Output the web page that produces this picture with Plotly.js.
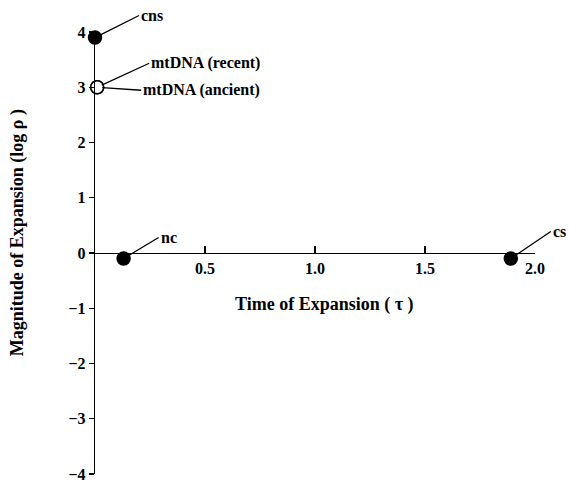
<!DOCTYPE html>
<html>
<head>
<meta charset="utf-8">
<script src="https://cdn.plot.ly/plotly-3.0.1.min.js"></script>
<style>html,body{margin:0;padding:0;background:#fff;}#chart{width:569px;height:485px;}</style>
</head>
<body>
<div id="chart"></div>
<script>
// Data
const labels = ["cns", "mtDNA (recent)", "mtDNA (ancient)", "nc", "cs"];
const tau = [0.0, 0.01, 0.01, 0.13, 1.89];
const logRho = [3.9, 3.0, 3.0, -0.1, -0.1];
const filled = [true, false, false, true, true];
const xTicks = [0.5, 1.0, 1.5, 2.0];
const xTickText = ["0.5", "1.0", "1.5", "2.0"];
const yTicks = [-4, -3, -2, -1, 0, 1, 2, 3, 4];
const xTitle = "Time of Expansion ( τ )";
const yTitle = "Magnitude of Expansion (log ρ )";
// label offsets (pixels) for callouts
const labelAx = [44, 52, 44, 35, 40];
const labelAy = [-22, -24, 3, -21, -27];

const FONT = "Liberation Serif, Times New Roman, serif";

const trace = {
  x: tau, y: logRho, mode: "markers", type: "scatter",
  marker: {
    size: 13,
    color: filled.map(f => f ? "#000" : "#fff"),
    line: {color: "#000", width: 1.5}
  },
  cliponaxis: false,
  hoverinfo: "text", text: labels, showlegend: false
};

const annotations = labels.map((t, i) => ({
  x: tau[i], y: logRho[i], xref: "x", yref: "y",
  text: t, showarrow: true, arrowhead: 0, arrowwidth: 1.3, arrowcolor: "#000",
  ax: labelAx[i], ay: labelAy[i], xanchor: "left", yanchor: "middle",
  standoff: 5,
  font: {family: FONT, size: 16, color: "#000", weight: "bold"}
}));

// axis titles placed as annotations to match the reference's offset positions
annotations.push({
  text: xTitle, xref: "x", yref: "y", x: 1.045, y: -0.93,
  showarrow: false, xanchor: "center", yanchor: "middle",
  font: {family: FONT, size: 18, color: "#000", weight: "bold"}
});
annotations.push({
  text: yTitle, xref: "paper", yref: "y", x: -0.177, y: 0.36,
  showarrow: false, textangle: -90, xanchor: "center", yanchor: "middle",
  font: {family: FONT, size: 18, color: "#000", weight: "bold"}
});

const layout = {
  width: 569, height: 485,
  margin: {l: 95, r: 34, t: 32, b: 11},
  paper_bgcolor: "#fff", plot_bgcolor: "#fff",
  font: {family: FONT, color: "#000", size: 16, weight: "bold"},
  showlegend: false,
  xaxis: {
    range: [0, 2], anchor: "free", position: 0.5,
    tickvals: xTicks, ticktext: xTickText,
    ticks: "inside", ticklen: 7, tickwidth: 1.3, tickcolor: "#000",
    showline: true, linecolor: "#000", linewidth: 1.3,
    showgrid: false, zeroline: false,
    tickfont: {family: FONT, size: 16, weight: "bold"},
    automargin: false
  },
  yaxis: {
    range: [-4, 4], tickvals: yTicks,
    ticks: "outside", ticklen: 5, tickwidth: 1.3, tickcolor: "#000",
    showline: true, linecolor: "#000", linewidth: 1.3,
    showgrid: false, zeroline: false,
    tickfont: {family: FONT, size: 16, weight: "bold"},
    automargin: false
  },
  annotations: annotations
};

Plotly.newPlot("chart", [trace], layout, {displayModeBar: false, staticPlot: true});
</script>
</body>
</html>
